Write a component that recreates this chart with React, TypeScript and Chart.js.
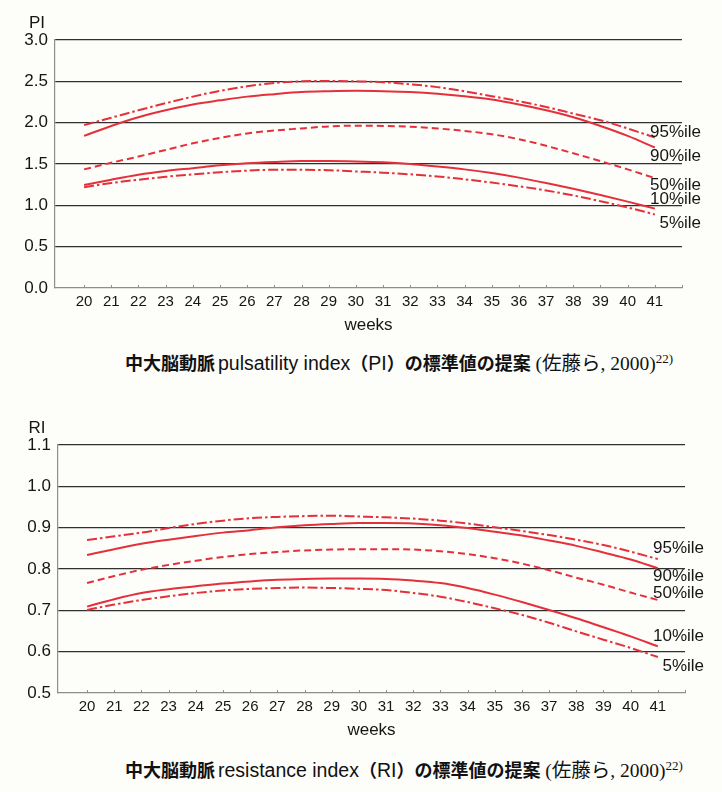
import React, { useEffect, useRef } from 'react';
import { Chart, registerables } from 'chart.js';

Chart.register(...registerables);

// ---- data ----
const weeks = [20, 21, 22, 23, 24, 25, 26, 27, 28, 29, 30, 31, 32, 33, 34, 35, 36, 37, 38, 39, 40, 41];
const xTickWeeks = [20, 21, 22, 23, 24, 25, 26, 27, 28, 29, 30, 31, 32, 33, 34, 35, 36, 37, 38, 39, 40, 41, 42];
const seriesNames = ['95%ile', '90%ile', '50%ile', '10%ile', '5%ile'];

// Pulsatility index
const piP95 = [1.97, 2.06, 2.15, 2.235, 2.315, 2.385, 2.44, 2.48, 2.5, 2.505, 2.5, 2.49, 2.465, 2.43, 2.38, 2.32, 2.26, 2.19, 2.11, 2.03, 1.93, 1.82];
const piP90 = [1.84, 1.96, 2.065, 2.15, 2.22, 2.27, 2.315, 2.345, 2.37, 2.38, 2.385, 2.38, 2.37, 2.35, 2.32, 2.28, 2.22, 2.15, 2.065, 1.96, 1.84, 1.7];
const piP50 = [1.435, 1.515, 1.59, 1.67, 1.75, 1.815, 1.87, 1.905, 1.93, 1.955, 1.963, 1.96, 1.95, 1.93, 1.9, 1.86, 1.8, 1.72, 1.63, 1.535, 1.435, 1.33];
const piP10 = [1.245, 1.31, 1.37, 1.415, 1.45, 1.485, 1.51, 1.525, 1.535, 1.535, 1.53, 1.52, 1.5, 1.47, 1.435, 1.39, 1.335, 1.27, 1.2, 1.125, 1.045, 0.96];
const piP5 = [1.22, 1.27, 1.31, 1.345, 1.375, 1.4, 1.42, 1.43, 1.43, 1.425, 1.41, 1.395, 1.375, 1.35, 1.315, 1.275, 1.23, 1.18, 1.12, 1.05, 0.975, 0.89];
const piTicks = [0, 0.5, 1, 1.5, 2, 2.5, 3];
const piLabelAt = [1.879, 1.588, 1.246, 1.073, 0.783];

// Resistance index
const riP95 = [0.87, 0.879, 0.888, 0.899, 0.909, 0.917, 0.923, 0.926, 0.928, 0.929, 0.927, 0.925, 0.922, 0.917, 0.91, 0.901, 0.892, 0.882, 0.871, 0.858, 0.842, 0.824];
const riP90 = [0.834, 0.848, 0.861, 0.871, 0.88, 0.888, 0.894, 0.901, 0.906, 0.909, 0.911, 0.911, 0.91, 0.906, 0.899, 0.89, 0.881, 0.869, 0.856, 0.84, 0.823, 0.802];
const riP50 = [0.766, 0.783, 0.798, 0.81, 0.82, 0.829, 0.836, 0.841, 0.845, 0.847, 0.848, 0.848, 0.847, 0.843, 0.836, 0.826, 0.813, 0.797, 0.779, 0.762, 0.743, 0.725];
const riP10 = [0.709, 0.727, 0.742, 0.751, 0.758, 0.765, 0.77, 0.774, 0.776, 0.777, 0.777, 0.776, 0.772, 0.766, 0.754, 0.738, 0.72, 0.701, 0.681, 0.659, 0.637, 0.613];
const riP5 = [0.701, 0.714, 0.725, 0.734, 0.742, 0.748, 0.752, 0.754, 0.755, 0.754, 0.752, 0.749, 0.742, 0.733, 0.72, 0.705, 0.689, 0.67, 0.649, 0.629, 0.609, 0.587];
const riTicks = [0.5, 0.6, 0.7, 0.8, 0.9, 1.0, 1.1];
const riLabelAt = [0.85, 0.782, 0.74, 0.637, 0.564];

// ---- styles ----
const RED = '#e4303b';
const DASH_DOT = [10, 3, 2.5, 3];
const DASHED = [7, 4];
const dashes = [DASH_DOT, [], DASHED, [], DASH_DOT];
const FONT = '"Liberation Sans", Arial, sans-serif';
const GRID = '#303030';
const AXIS = '#8e8e8e';

type PanelProps = {
  yTitle: string;
  yTicks: number[];
  series: number[][];
  labelAt: number[];
  leftW: number;
  padRight: number;
  titleDx: number;
};

function Panel({ yTitle, yTicks, series, labelAt, leftW, padRight, titleDx }: PanelProps) {
  const ref = useRef<HTMLCanvasElement | null>(null);
  useEffect(() => {
    if (!ref.current) return;
    const yMin = yTicks[0];
    const yMax = yTicks[yTicks.length - 1];
    const overlay = {
      id: 'overlay',
      afterDraw(chart: any) {
        const { ctx, chartArea, scales } = chart;
        const xs = scales.x;
        const ys = scales.y;
        ctx.save();
        ctx.strokeStyle = AXIS;
        ctx.lineWidth = 1;
        xTickWeeks.forEach((w) => {
          const px = Math.round(xs.getPixelForValue(w)) + 0.5;
          ctx.beginPath();
          ctx.moveTo(px, chartArea.bottom);
          ctx.lineTo(px, chartArea.bottom - 3);
          ctx.stroke();
        });
        ctx.fillStyle = '#151515';
        ctx.font = `17px ${FONT}`;
        ctx.textAlign = 'right';
        ctx.textBaseline = 'middle';
        seriesNames.forEach((n, i) => {
          ctx.fillText(n, chartArea.right + 19, ys.getPixelForValue(labelAt[i]));
        });
        ctx.textAlign = 'center';
        ctx.fillText(yTitle, chartArea.left + titleDx, chartArea.top - 17);
        ctx.restore();
      },
    };
    const chart = new Chart(ref.current, {
      type: 'line',
      data: {
        datasets: series.map((vals, i) => ({
          label: seriesNames[i],
          data: weeks.map((w, j) => ({ x: w, y: vals[j] })),
          borderColor: RED,
          borderWidth: 2,
          borderDash: dashes[i],
          pointRadius: 0,
          fill: false,
          tension: 0.4,
          cubicInterpolationMode: 'monotone' as const,
        })),
      },
      options: {
        animation: false,
        responsive: true,
        maintainAspectRatio: false,
        layout: { padding: { left: 0, top: 40, right: padRight, bottom: 0 } },
        plugins: { legend: { display: false }, tooltip: { enabled: false } },
        scales: {
          x: {
            type: 'linear',
            min: 18.93,
            max: 42,
            afterBuildTicks: (s: any) => {
              s.ticks = xTickWeeks.map((v) => ({ value: v }));
            },
            afterFit: (s: any) => {
              s.height = 52;
            },
            grid: { display: false, drawTicks: false },
            border: { display: true, color: AXIS, width: 1.2 },
            ticks: {
              autoSkip: false,
              maxRotation: 0,
              padding: 5,
              color: '#151515',
              font: { family: FONT, size: 15 },
              callback: (v: any) => (weeks.includes(Number(v)) ? String(v) : ''),
            },
            title: {
              display: true,
              text: 'weeks',
              color: '#151515',
              font: { family: FONT, size: 17 },
              padding: { top: 0, bottom: 4 },
            },
          },
          y: {
            type: 'linear',
            min: yMin,
            max: yMax,
            afterBuildTicks: (s: any) => {
              s.ticks = yTicks.map((v) => ({ value: v }));
            },
            afterFit: (s: any) => {
              s.width = leftW;
            },
            grid: {
              drawTicks: false,
              lineWidth: 1.2,
              color: (c: any) => (c.tick && Math.abs(c.tick.value - yMin) < 1e-6 ? 'rgba(0,0,0,0)' : GRID),
            },
            border: { display: true, color: AXIS, width: 1.2 },
            ticks: {
              padding: 7,
              color: '#151515',
              font: { family: FONT, size: 17 },
              callback: (v: any) => Number(v).toFixed(1),
            },
          },
        },
      },
      plugins: [overlay],
    });
    return () => chart.destroy();
  }, []);
  return (
    <div style={{ position: 'relative', width: 722, height: 340 }}>
      <canvas ref={ref} />
    </div>
  );
}

const cjk = { fontFamily: '"Noto Sans CJK JP", sans-serif', fontWeight: 700, fontSize: 18 } as const;
const latin = { fontFamily: FONT, fontWeight: 400, fontSize: 19.5 } as const;
const serif = { fontFamily: '"Liberation Serif", "Noto Sans CJK JP", serif', fontWeight: 400, fontSize: 19.5 } as const;

function Caption({ term, abbr, top }: { term: string; abbr: string; top: number }) {
  return (
    <div
      style={{
        position: 'absolute',
        left: 125,
        top,
        lineHeight: '22px',
        color: '#111',
        whiteSpace: 'nowrap',
      }}
    >
      <span style={cjk}>中大脳動脈</span>
      <span style={{ ...latin, marginLeft: 3 }}>{term}</span>
      <span style={cjk}>（</span>
      <span style={latin}>{abbr}</span>
      <span style={cjk}>）の標準値の提案</span>
      <span style={serif}> (佐藤ら, 2000)</span>
      <span style={{ ...serif, fontSize: 13, position: 'relative', top: -7 }}>22)</span>
    </div>
  );
}

export default function App() {
  return (
    <div style={{ position: 'relative', width: 722, height: 792, overflow: 'hidden', background: '#fdfdfa' }}>
      <style>{'body{margin:0}'}</style>
      <div style={{ position: 'absolute', left: 0, top: 0 }}>
        <Panel
          yTitle="PI"
          yTicks={piTicks}
          series={[piP95, piP90, piP50, piP10, piP5]}
          labelAt={piLabelAt}
          leftW={55}
          padRight={40}
          titleDx={-18}
        />
      </div>
      <Caption term="pulsatility index" abbr="PI" top={351} />
      <div style={{ position: 'absolute', left: 0, top: 405 }}>
        <Panel
          yTitle="RI"
          yTicks={riTicks}
          series={[riP95, riP90, riP50, riP10, riP5]}
          labelAt={riLabelAt}
          leftW={58}
          padRight={37}
          titleDx={-21}
        />
      </div>
      <Caption term="resistance index" abbr="RI" top={758} />
    </div>
  );
}
